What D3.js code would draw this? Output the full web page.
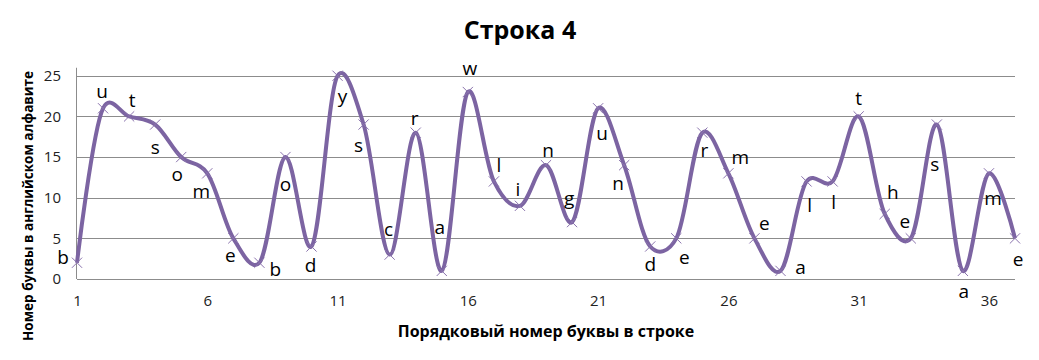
<!DOCTYPE html>
<html>
<head>
<meta charset="utf-8">
<script src="https://cdn.jsdelivr.net/npm/d3@7"></script>
<style>
  body { margin: 0; background: #fff; }
  svg { display: block; font-family: "Open Sans", "Noto Sans", sans-serif; }
</style>
</head>
<body>
<svg></svg>
<script>
let width = 1039,
    height = 360;

// letters of the line and their number in the english alphabet
const letters = ["b", "u", "t", "s", "o", "m", "e", "b", "o", "d", "y", "s", "c", "r", "a", "w", "l", "i", "n",
    "g", "u", "n", "d", "e", "r", "m", "e", "a", "l", "l", "t", "h", "e", "s", "a", "m", "e"];
const values = [2, 21, 20, 19, 15, 13, 5, 2, 15, 4, 25, 19, 3, 18, 1, 23, 12, 9, 14,
    7, 21, 14, 4, 5, 18, 13, 5, 1, 12, 12, 20, 8, 5, 19, 1, 13, 5];
const xTicks = [1, 6, 11, 16, 21, 26, 31, 36];
const yTicks = [0, 5, 10, 15, 20, 25];

// where each letter label sits relative to its point (px)
const labelOffsets = [[-14, -5], [-1, -16], [3, -15], [0, 23], [-4, 18], [-6, 19], [-3, 18], [16, 7], [0, 28], [-1, 20],
    [5, 21], [-5, 21], [-1, -25], [-1, -14], [-2, -43], [2, -23], [5, -15], [-2, -16], [2, -14], [-3, -23],
    [4, 26], [-6, 19], [0, 19], [8, 20], [2, 18], [12, -15], [10, -14], [20, -3], [3, 25], [1, 22],
    [0, -17], [8, -21], [-6, -16], [-2, 40], [1, 21], [4, 26], [3, 22]];

const points = values.map((v, i) => ({ pos: i + 1, value: v, letter: letters[i], off: labelOffsets[i] }));

let svg = d3.select("svg")
    .attr("width", width)
    .attr("height", height);

let x = d3.scaleLinear().domain([1, 37]).range([77, 1015]);
let y = d3.scaleLinear().domain([0, 25]).range([279, 75.75]);

// title
svg.append("text")
    .attr("x", 520)
    .attr("y", 39)
    .attr("text-anchor", "middle")
    .style("font-size", "25px")
    .style("font-weight", "bold")
    .text("Строка 4");

// gridlines
svg.append("g")
    .selectAll("line")
    .data(yTicks)
    .enter()
    .append("line")
    .attr("x1", x(1))
    .attr("x2", x(37))
    .attr("y1", d => Math.round(y(d)) + 0.5)
    .attr("y2", d => Math.round(y(d)) + 0.5)
    .attr("stroke", "#8c8c8c")
    .attr("stroke-width", 1);

// y axis line
svg.append("line")
    .attr("x1", 76.5).attr("x2", 76.5)
    .attr("y1", y(0)).attr("y2", y(25) - 8)
    .attr("stroke", "#8c8c8c");

// axes labels
let yAxis = d3.axisLeft(y).tickValues(yTicks).tickSize(0).tickPadding(16);
svg.append("g")
    .attr("transform", "translate(77,0)")
    .call(yAxis)
    .call(g => g.select(".domain").remove())
    .selectAll("text")
    .style("font-family", "Open Sans")
    .style("font-size", "15px")
    .attr("fill", "#222");

let xAxis = d3.axisBottom(x).tickValues(xTicks).tickSize(0).tickPadding(16);
svg.append("g")
    .attr("transform", "translate(0," + y(0) + ")")
    .call(xAxis)
    .call(g => g.select(".domain").remove())
    .selectAll("text")
    .style("font-family", "Open Sans")
    .style("font-size", "15px")
    .attr("fill", "#222");

svg.append("text")
    .attr("x", 546)
    .attr("y", 337)
    .attr("text-anchor", "middle")
    .style("font-size", "16px")
    .style("font-weight", "bold")
    .text("Порядковый номер буквы в строке");

svg.append("text")
    .attr("transform", "translate(33,206) rotate(-90)")
    .attr("text-anchor", "middle")
    .style("font-size", "13.5px")
    .style("font-weight", "bold")
    .text("Номер буквы в английском алфавите");

// smoothed line, Excel-like
let line = d3.line()
    .x(d => x(d.pos))
    .y(d => y(d.value))
    .curve(d3.curveCatmullRom.alpha(0.15));

svg.append("path")
    .datum(points)
    .attr("d", line)
    .attr("fill", "none")
    .attr("stroke", "#7c64a2")
    .attr("stroke-width", 4)
    .attr("stroke-linejoin", "round");

// x markers
let marker = d3.symbol().type(d3.symbolX).size(70);
svg.append("g")
    .selectAll("path")
    .data(points)
    .enter()
    .append("path")
    .attr("d", marker)
    .attr("transform", d => "translate(" + x(d.pos) + "," + y(d.value) + ")")
    .attr("fill", "none")
    .attr("stroke", "#8a73ad")
    .attr("stroke-width", 1);

// letter labels
svg.append("g")
    .selectAll("text")
    .data(points)
    .enter()
    .append("text")
    .attr("x", d => x(d.pos) + d.off[0])
    .attr("y", d => y(d.value) + d.off[1] + 6)
    .attr("text-anchor", "middle")
    .style("font-size", "19px")
    .attr("fill", "#000")
    .text(d => d.letter);
</script>
</body>
</html>
